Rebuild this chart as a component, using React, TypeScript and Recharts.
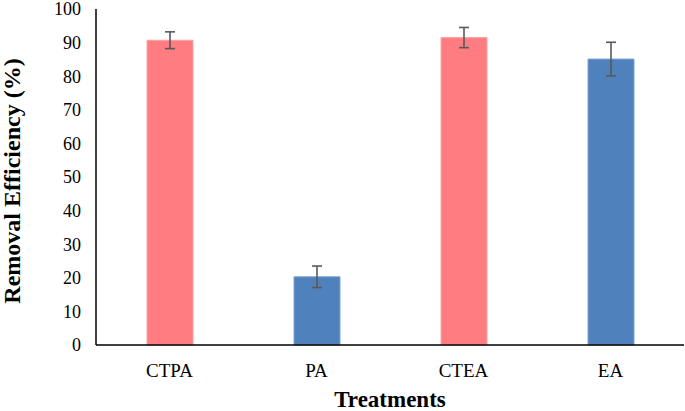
import { BarChart, Bar, XAxis, YAxis, Cell, ErrorBar, Label } from "recharts";

const treatments = ["CTPA", "PA", "CTEA", "EA"];
const efficiency = [90.7, 20.3, 91.5, 85.1];
const stdErr = [2.5, 3.2, 3.0, 5.0];
const barColors = ["#FF7C80", "#4F81BD", "#FF7C80", "#4F81BD"];
const barEdges = ["#FFA3A6", "#7EA3D6", "#FFA3A6", "#7EA3D6"];
const yTicks = [0, 10, 20, 30, 40, 50, 60, 70, 80, 90, 100];

const data = treatments.map((t, i) => ({ name: t, value: efficiency[i], err: stdErr[i] }));

const font = "Liberation Serif, Times New Roman, serif";

// rotated y title, centred on a fixed x inside the axis area
const YTitle = ({ viewBox }: any) => {
  const cx = 12;
  const cy = viewBox.y + viewBox.height / 2 + 4;
  return (
    <text
      x={cx}
      y={cy}
      transform={`rotate(-90, ${cx}, ${cy})`}
      textAnchor="middle"
      dominantBaseline="central"
      fill="#000"
      fontSize={24}
      fontWeight="bold"
      fontFamily={font}
    >
      Removal Efficiency (%)
    </text>
  );
};

export default function App() {
  return (
    <div style={{ position: "absolute", left: 0, top: 0, width: 685, height: 411, background: "#fff", fontFamily: font }}>
      <BarChart width={685} height={411} data={data} margin={{ top: 9, right: 1, left: 0, bottom: 0 }}>
        <XAxis
          dataKey="name"
          height={66}
          tickSize={0}
          tickMargin={19}
          axisLine={{ stroke: "#000", strokeWidth: 1.5 }}
          tickLine={false}
          tick={{ fill: "#000", fontSize: 19, fontFamily: font }}
        >
          <Label value="Treatments" position="insideBottom" offset={4} style={{ fill: "#000", fontSize: 23, fontWeight: "bold", fontFamily: font }} />
        </XAxis>
        <YAxis
          width={96}
          domain={[0, 100]}
          ticks={yTicks}
          interval={0}
          tickSize={0}
          tickMargin={15}
          axisLine={{ stroke: "#000", strokeWidth: 1.5 }}
          tickLine={false}
          tick={{ fill: "#000", fontSize: 18, fontFamily: font }}
        >
          <Label content={YTitle} />
        </YAxis>
        <Bar dataKey="value" barSize={46} isAnimationActive={false}>
          {data.map((d, i) => (
            <Cell key={d.name} fill={barColors[i]} stroke={barEdges[i]} strokeWidth={1} />
          ))}
          <ErrorBar dataKey="err" width={5} stroke="#595959" strokeWidth={1.6} />
        </Bar>
      </BarChart>
    </div>
  );
}
